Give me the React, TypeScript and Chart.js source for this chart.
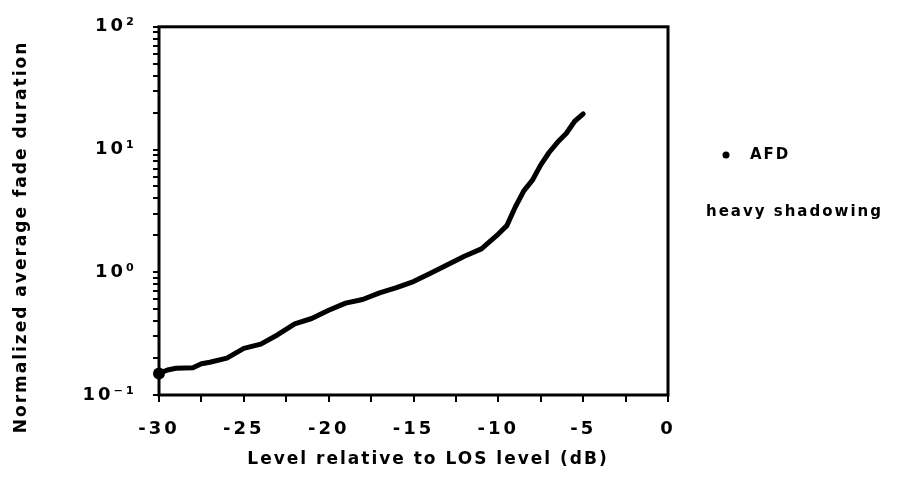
import React, { useEffect, useRef } from "react";
import { Chart, registerables } from "chart.js";

Chart.register(...registerables);

// Level relative to LOS level (dB)
const levelDb = [
  -30, -29.5, -29, -28, -27.5, -27, -26, -25, -24, -23, -22, -21, -20, -19, -18, -17,
  -16, -15, -14, -13, -12, -11, -10, -9.5, -9, -8.5, -8, -7.5, -7, -6.5, -6, -5.5, -5,
];
// Normalized average fade duration (AFD), heavy shadowing
const afd = [
  0.15, 0.16, 0.165, 0.167, 0.18, 0.185, 0.2, 0.24, 0.26, 0.31, 0.38, 0.42, 0.49, 0.56, 0.6, 0.68,
  0.75, 0.84, 0.98, 1.15, 1.35, 1.55, 2.05, 2.4, 3.4, 4.6, 5.6, 7.5, 9.5, 11.5, 13.5, 17, 19.5,
];

const yTickValues = [
  0.1, 0.2, 0.3, 0.4, 0.5, 0.6, 0.7, 0.8, 0.9,
  1, 2, 3, 4, 5, 6, 7, 8, 9,
  10, 20, 30, 40, 50, 60, 70, 80, 90, 100,
];
const yTickLabels: Record<string, string> = {
  "-1": "10⁻¹",
  "0": "10⁰",
  "1": "10¹",
  "2": "10²",
};
const xLabelStep = 5;
const xMinorStep = 2.5;

const xTitle = "Level relative to LOS level (dB)";
const yTitle = "Normalized average fade duration";
const legendLabel = "AFD";
const legendNote = "heavy shadowing";

const FONT = "'DejaVu Sans', sans-serif";

export default function App() {
  const ref = useRef<HTMLCanvasElement>(null);

  useEffect(() => {
    document.body.style.margin = "0";
    const canvas = ref.current;
    if (!canvas) return;

    const framePlugin = {
      id: "frameAndLegend",
      beforeDraw(chart: any) {
        (chart.ctx as any).letterSpacing = "3px";
      },
      afterDraw(chart: any) {
        const { ctx, chartArea: a } = chart;
        ctx.save();
        ctx.strokeStyle = "#000";
        ctx.lineWidth = 3;
        ctx.strokeRect(a.left, a.top, a.right - a.left, a.bottom - a.top);

        ctx.fillStyle = "#000";
        (ctx as any).letterSpacing = "2px";
        ctx.textBaseline = "middle";
        ctx.textAlign = "center";

        // x axis title
        ctx.font = `bold 17px ${FONT}`;
        ctx.fillText(xTitle, 428, 460);

        // y axis title
        ctx.save();
        ctx.translate(22, 237);
        ctx.rotate(-Math.PI / 2);
        ctx.fillText(yTitle, 0, 0);
        ctx.restore();

        // legend
        ctx.beginPath();
        ctx.arc(726, 155, 3.5, 0, Math.PI * 2);
        ctx.fill();
        ctx.font = `bold 15px ${FONT}`;
        ctx.textAlign = "left";
        ctx.fillText(legendLabel, 750, 155);
        ctx.fillText(legendNote, 706, 212);
        ctx.restore();
      },
    };

    const chart = new Chart(canvas, {
      type: "line",
      data: {
        datasets: [
          {
            label: legendLabel,
            data: levelDb.map((x, i) => ({ x, y: afd[i] })),
            borderColor: "#000",
            backgroundColor: "#000",
            borderWidth: 5,
            pointRadius: (c: any) => (c.dataIndex === 0 ? 6 : 0),
            pointBackgroundColor: "#000",
            pointBorderWidth: 0,
            tension: 0,
            borderJoinStyle: "round",
            borderCapStyle: "round",
            clip: false,
          } as any,
        ],
      },
      options: {
        animation: false,
        responsive: false,
        events: [],
        layout: { padding: { top: 26, right: 229, left: 0, bottom: 0 } },
        plugins: { legend: { display: false }, tooltip: { enabled: false } },
        scales: {
          x: {
            type: "linear",
            min: -30,
            max: 0,
            ticks: {
              stepSize: xMinorStep,
              autoSkip: false,
              maxRotation: 0,
              padding: 17,
              color: "#000",
              font: { family: FONT, size: 18, weight: "bold" },
              callback: (v: any) => (Math.abs(v % xLabelStep) < 1e-9 ? String(v) : ""),
            },
            grid: {
              drawOnChartArea: false,
              drawTicks: true,
              tickLength: 7,
              color: "#000",
              lineWidth: 2,
            },
            border: { display: false },
            title: { display: false },
            afterFit: (s: any) => {
              s.height = 92;
            },
          },
          y: {
            type: "logarithmic",
            min: 0.1,
            max: 100,
            afterBuildTicks: (s: any) => {
              s.ticks = yTickValues.map((v) => ({ value: v }));
            },
            ticks: {
              autoSkip: false,
              padding: 16,
              color: "#000",
              font: { family: FONT, size: 18, weight: "bold" },
              callback: (v: any) => {
                const e = Math.log10(v);
                const r = Math.round(e);
                return Math.abs(e - r) < 1e-9 ? yTickLabels[String(r)] ?? "" : "";
              },
            },
            grid: {
              drawOnChartArea: false,
              drawTicks: true,
              tickLength: 6,
              color: "#000",
              lineWidth: 2,
            },
            border: { display: false },
            title: { display: false },
            afterFit: (s: any) => {
              s.width = 159;
            },
          },
        },
      },
      plugins: [framePlugin],
    } as any);

    return () => chart.destroy();
  }, []);

  return (
    <div style={{ position: "relative", width: 897, height: 487 }}>
      <canvas ref={ref} width={897} height={487} style={{ display: "block", width: 897, height: 487 }} />
    </div>
  );
}
